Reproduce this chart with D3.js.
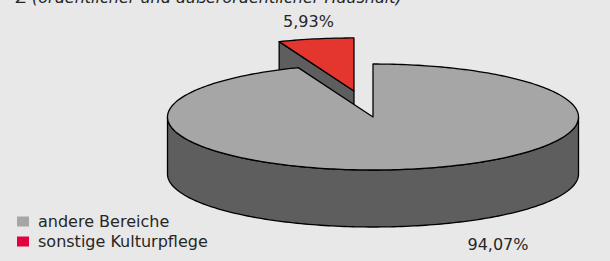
<!DOCTYPE html>
<html>
<head>
<meta charset="utf-8">
<script src="https://cdn.jsdelivr.net/npm/d3@7"></script>
<style>
body { margin: 0; background: #e8e8e8; }
text { font-family: "DejaVu Sans", sans-serif; fill: #262626; }
</style>
</head>
<body>
<div id="chart"></div>
<script>
// data
var categories = ["andere Bereiche", "sonstige Kulturpflege"];
var values = [94.07, 5.93];
var labels = ["94,07%", "5,93%"];
var topColors = ["#a6a6a6", "#e5352f"];
var legendColors = ["#a6a6a6", "#e2003e"];
var title = "Z (ordentlicher und außerordentlicher Haushalt)";

var W = 610, H = 261;
var cx = 373, cy = 117, rx = 205.5, ry = 53, depth = 57;
var sideColor = "#5e5e5e";

var svg = d3.select("#chart").append("svg")
  .attr("width", W).attr("height", H);

svg.append("rect").attr("width", W).attr("height", H).attr("fill", "#e8e8e8");

// unit circle -> ellipse
var sx = d3.scaleLinear().domain([-1, 1]).range([-rx, rx]);
var sy = d3.scaleLinear().domain([-1, 1]).range([ry, -ry]);

var pie = d3.pie().sort(null).startAngle(0).endAngle(2 * Math.PI);
var arcs = pie(values);

function pt(a, ox, oy, dz) {
  return [ox + sx(Math.sin(a)), oy + sy(Math.cos(a)) + (dz || 0)];
}

function arcPoints(a0, a1, ox, oy, dz) {
  var n = Math.max(2, Math.ceil(Math.abs(a1 - a0) / 0.02));
  var pts = [];
  for (var i = 0; i <= n; i++) pts.push(pt(a0 + (a1 - a0) * i / n, ox, oy, dz));
  return pts;
}

function poly(pts) {
  return "M" + pts.map(function(p){ return p[0].toFixed(2) + "," + p[1].toFixed(2); }).join("L") + "Z";
}

// exploded offset for each slice
var explode = [0, 0.5];
var g = svg.append("g");

// draw back slice (exploded red) first, then the big one
[1, 0].forEach(function(i) {
  var d = arcs[i];
  var mid = (d.startAngle + d.endAngle) / 2;
  var ox = cx + explode[i] * sx(Math.sin(mid));
  var oy = cy + explode[i] * sy(Math.cos(mid));
  var a0 = d.startAngle, a1 = d.endAngle;

  // visible cut face at start angle (if it faces front)
  if (explode[i] > 0 && -Math.sin(a0) > 0) {
    var p = pt(a0, ox, oy);
    g.append("path")
      .attr("d", poly([[ox, oy], p, [p[0], p[1] + depth], [ox, oy + depth]]))
      .attr("fill", sideColor).attr("stroke", "#000").attr("stroke-width", 1.3)
      .attr("stroke-linejoin", "round");
  }

  // outer side, front half only
  var s0 = Math.max(a0, Math.PI / 2), s1 = Math.min(a1, 3 * Math.PI / 2);
  if (s1 > s0) {
    var top = arcPoints(s0, s1, ox, oy, 0);
    var bot = arcPoints(s1, s0, ox, oy, depth);
    g.append("path")
      .attr("d", poly(top.concat(bot)))
      .attr("fill", sideColor).attr("stroke", "#000").attr("stroke-width", 1.3)
      .attr("stroke-linejoin", "round");
  }

  // top face
  g.append("path")
    .attr("d", poly([[ox, oy]].concat(arcPoints(a0, a1, ox, oy, 0))))
    .attr("fill", topColors[i]).attr("stroke", "#000").attr("stroke-width", 1.3)
    .attr("stroke-linejoin", "round");
});

// value labels
var labelPos = [[498, 250], [308.5, 27]];
svg.selectAll("text.val").data(labels).enter().append("text")
  .attr("class", "val")
  .attr("x", function(d, i){ return labelPos[i][0]; })
  .attr("y", function(d, i){ return labelPos[i][1]; })
  .attr("text-anchor", "middle")
  .attr("font-size", 16)
  .text(function(d){ return d; });

// title (cut at the top edge, as in the original)
svg.append("text")
  .attr("x", 16).attr("y", 3)
  .attr("font-size", 16)
  .attr("font-style", "italic")
  .text(title);

// legend
var leg = svg.selectAll("g.leg").data(categories).enter().append("g")
  .attr("class", "leg")
  .attr("transform", function(d, i){ return "translate(17," + (216.5 + i * 20) + ")"; });
leg.append("rect").attr("width", 12).attr("height", 10)
  .attr("fill", function(d, i){ return legendColors[i]; });
leg.append("text").attr("x", 21).attr("y", 10)
  .attr("font-size", 16)
  .text(function(d){ return d; });
</script>
</body>
</html>
